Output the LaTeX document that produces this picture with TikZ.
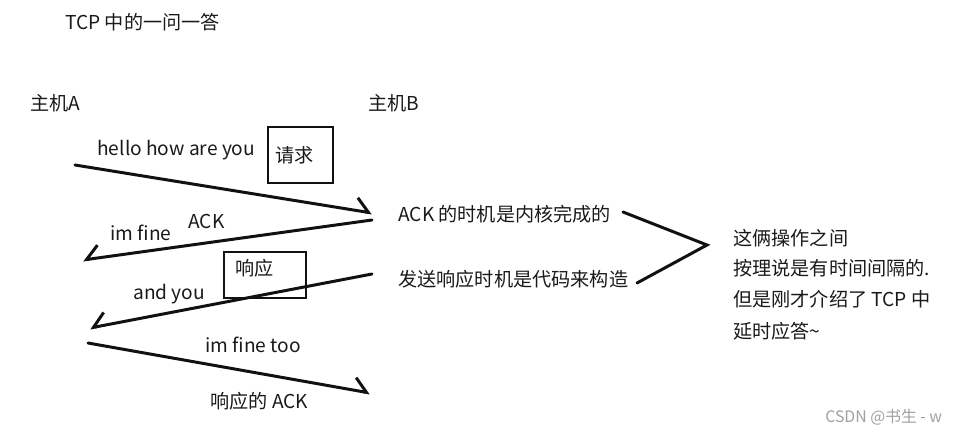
\documentclass[tikz,border=0pt]{standalone}
\usepackage{fontspec}
\setmainfont{Noto Sans CJK SC}
\usetikzlibrary{arrows.meta}
\definecolor{inkline}{HTML}{111111}
\definecolor{textcol}{HTML}{1A1A1A}
\definecolor{markgray}{HTML}{A0A0A0}
\tikzset{
  note/.style={anchor=west, inner sep=0pt, font=\fontsize{10.9}{13}\selectfont, text=textcol},
  tagbox/.style={rectangle, draw=inkline, line width=1.3pt, inner sep=0pt},
  msg/.style={draw=inkline, line width=1.7pt, line cap=round,
    -{Straight Barb[harpoon, angle=90:3.6mm, line width=1.7pt]}},
  msgback/.style={msg, -{Straight Barb[harpoon, swap, angle=90:3.6mm, line width=1.7pt]}},
  brace/.style={draw=inkline, line width=1.7pt, line cap=round}
}

\begin{document}
\begin{tikzpicture}[x=0.02cm, y=-0.02cm]
\useasboundingbox (0,0) rectangle (959,433);

% Title and hosts.
\node[note] (title) at (65,22) {TCP 中的一问一答};
\node[note] (hostA) at (30,103) {主机A};
\node[note] (hostB) at (368,103) {主机B};

% Boxes.
\node[tagbox, minimum width=1.3cm, minimum height=1.12cm] (reqbox) at (300.5,155) {};
\node[note] (reqtext) at (275,155) {请求};
\node[tagbox, minimum width=1.64cm, minimum height=0.92cm] (respbox) at (265,275) {};
\node[note] (resptext) at (235,268) {响应};

% Message labels.
\node[note] (hello) at (97,150) {hello how are you};
\node[note] (imfine) at (110,233) {im fine};
\node[note] (ack) at (188,221) {ACK};
\node[note] (andyou) at (133,294) {and you};
\node[note] (imfinetoo) at (205,345) {im fine too};
\node[note] (respack) at (210,401) {响应的 ACK};

% Notes on B side.
\node[note] (acknote) at (398,214) {ACK 的时机是内核完成的};
\node[note] (sendnote) at (398,279) {发送响应时机是代码来构造};
\node[note] (gap1) at (733,238) {这俩操作之间};
\node[note] (gap2) at (733,268) {按理说是有时间间隔的.};
\node[note] (gap3) at (733,299) {但是刚才介绍了 TCP 中};
\node[note] (gap4) at (733,331) {延时应答\textasciitilde};

% Message ends.
\coordinate (aReq) at (75,165);
\coordinate (bReq) at (372,213);
\coordinate (bAck) at (372,220);
\coordinate (aAck) at (83,260);
\coordinate (bResp) at (372,274);
\coordinate (aResp) at (90,328);
\coordinate (aFin) at (88,343);
\coordinate (bFin) at (370,393);

\draw[msg] (aReq) -- (bReq);
\draw[msgback] (bAck) -- (aAck);
\draw[msgback] (bResp) -- (aResp);
\draw[msg] (aFin) -- (bFin);

% Bracket.
\coordinate (braceTop) at (623,212);
\coordinate (braceTip) at (707,245);
\coordinate (braceLow) at (637,283);
\draw[brace] (braceTop) -- (braceTip) -- (braceLow);

% Watermark.
\node[note, text=markgray, font=\fontsize{9}{11}\selectfont] (mark) at (825,417) {CSDN @书生 - w};

\end{tikzpicture}
\end{document}
